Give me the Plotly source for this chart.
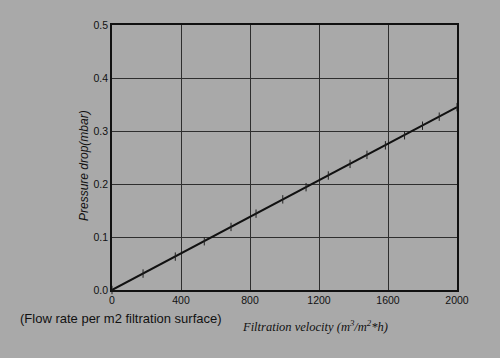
import plotly.graph_objects as go

velocity = [0, 180, 367, 535, 690, 835, 990, 1125, 1254, 1380, 1478, 1585, 1696, 1800, 1897, 2000]
pressure = [0.0, 0.031, 0.063, 0.092, 0.119, 0.144, 0.171, 0.194, 0.216, 0.238, 0.255, 0.273, 0.292, 0.310, 0.327, 0.345]
x_ticks = [0, 400, 800, 1200, 1600, 2000]
y_ticks = [0.0, 0.1, 0.2, 0.3, 0.4, 0.5]

bg = "#a9a9a9"
fig = go.Figure()
fig.add_trace(go.Scatter(
    x=velocity, y=pressure, mode="lines+markers",
    line=dict(color="#111111", width=2),
    marker=dict(symbol="line-ns", size=6, line=dict(color="#222222", width=1)),
    showlegend=False, cliponaxis=False,
))
fig.update_layout(
    width=500, height=358,
    paper_bgcolor=bg, plot_bgcolor=bg,
    margin=dict(l=112, r=43, t=25, b=68, autoexpand=False),
    font=dict(family="Liberation Sans, Arial", size=10.5, color="#111111"),
    xaxis=dict(range=[0, 2000], tickvals=x_ticks, ticktext=[str(v) for v in x_ticks],
               showgrid=True, gridcolor="#2e2e2e", gridwidth=1,
               showline=True, linecolor="#111111", linewidth=1.5, mirror=True,
               ticks="", zeroline=False, automargin=False),
    yaxis=dict(range=[0, 0.5], tickvals=y_ticks, ticktext=[f"{v:.1f}" for v in y_ticks],
               showgrid=True, gridcolor="#2e2e2e", gridwidth=1,
               showline=True, linecolor="#111111", linewidth=1.5, mirror=True,
               ticks="", ticklabelstandoff=0, zeroline=False, automargin=False),
)
fig.add_annotation(xref="paper", yref="paper", x=(84 - 112) / 345, y=(290 - 166) / 265,
                   xanchor="center", yanchor="middle", showarrow=False, textangle=-90,
                   text="<i>Pressure drop(mbar)</i>",
                   font=dict(family="Liberation Sans, Arial", size=12, color="#111111"))
fig.add_annotation(xref="paper", yref="paper", x=(240 - 112) / 345, y=(290 - 316) / 265,
                   xanchor="left", yanchor="top", showarrow=False,
                   text="<i>Filtration velocity (m<sup>3</sup>/m<sup>2</sup>*h)</i>",
                   font=dict(family="Liberation Serif, Times New Roman", size=12.5, color="#111111"))
fig.add_annotation(xref="paper", yref="paper", x=(18 - 112) / 345, y=(290 - 318) / 265,
                   xanchor="left", yanchor="middle", showarrow=False,
                   text="(Flow rate per m2 filtration surface)",
                   font=dict(family="Liberation Sans, Arial", size=13, color="#111111"))
fig.write_html("out.html", config={"displayModeBar": False},
               post_script="document.body.style.margin='0';")
